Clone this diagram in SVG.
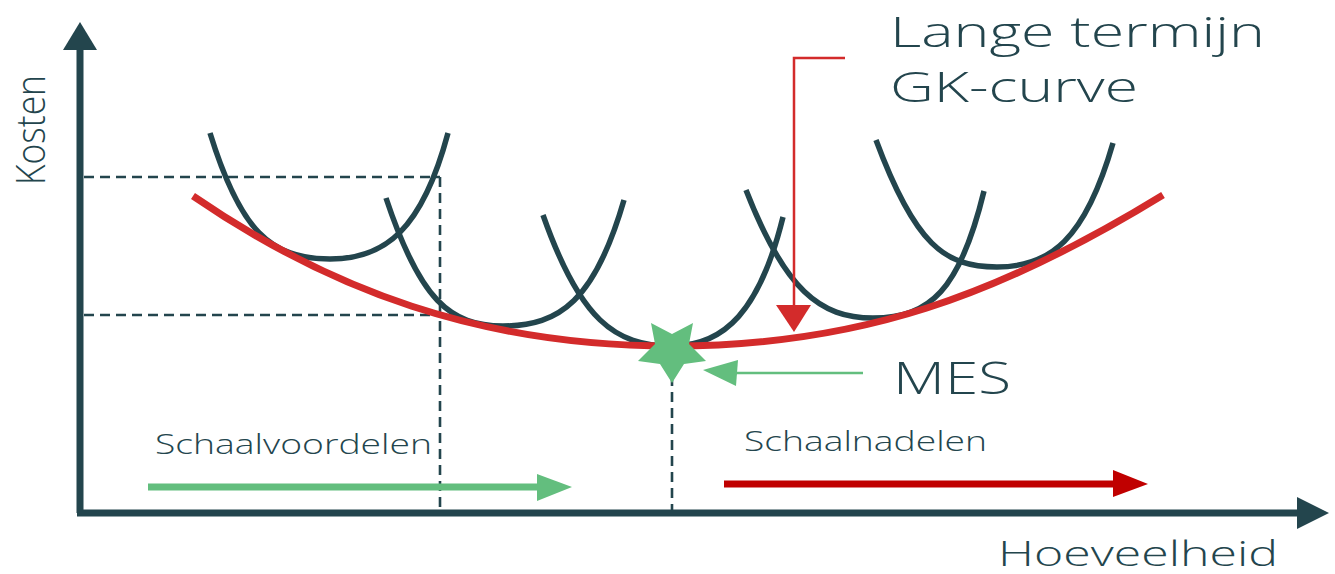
<svg xmlns="http://www.w3.org/2000/svg" width="1335" height="574" viewBox="0 0 1335 574">
<style>
.lbl{font-family:"Open Sans","Lato",sans-serif;font-weight:300;fill:#23454d}
.sac{fill:none;stroke:#23454d;stroke-width:5.5}
.dash{fill:none;stroke:#23454d;stroke-width:2.6;stroke-dasharray:10 6}
.axis{fill:none;stroke:#23454d;stroke-width:7}
</style>
<rect width="1335" height="574" fill="#ffffff"/>
<g id="guides">
<path class="dash" d="M84,177 H440 M84,315 H440 M440,177 V512 M672,376 V512"/>
</g>
<g id="axes">
<path class="axis" d="M80,513 V46 M77,513 H1300"/>
<polygon points="80,22 63,50 97,50" fill="#23454d"/>
<polygon points="1329,513 1297,497 1297,529" fill="#23454d"/>
</g>
<g id="sac-curves">
<path id="sac1" class="sac" d="M210,133 C240,230 270,259 330,259 C385,259 422,230 448,133"/>
<path id="sac2" class="sac" d="M386,198 C420,300 450,326 503,326 C560,326 595,300 624,200"/>
<path id="sac3" class="sac" d="M543,215 C580,320 615,346 672,346 C725,346 760,310 783,217"/>
<path id="sac4" class="sac" d="M746,190 C785,290 820,318 873,318 C930,318 960,290 984,191"/>
<path id="sac5" class="sac" d="M876,140 C915,245 945,267 997,267 C1050,267 1085,240 1113,143"/>
</g>
<g id="lrac">
<path d="M193,196 C330,290 480,346 672,346 C860,346 1000,295 1163,195" fill="none" stroke="#d32b2b" stroke-width="7"/>
</g>
<g id="mes-star">
<polygon points="672,383 660,364 638,361 655,344 651,323 672,334 693,323 689,344 706,361 684,364" fill="#63be7e"/>
</g>
<g id="connectors">
<path d="M845,58 H794 V306" fill="none" stroke="#d32b2b" stroke-width="2.5"/>
<polygon points="794,332 776,305 811,305" fill="#d32b2b"/>
<path d="M863,373 H735" fill="none" stroke="#63be7e" stroke-width="2.5"/>
<polygon points="703,370 738,360 736,386" fill="#63be7e"/>
<path d="M148,487 H540" fill="none" stroke="#63be7e" stroke-width="7"/>
<polygon points="572,487 537,474 537,501" fill="#63be7e"/>
<path d="M724,484 H1116" fill="none" stroke="#c00000" stroke-width="7"/>
<polygon points="1148,484 1113,470 1113,497" fill="#c00000"/>
</g>
<g id="labels">
<text class="lbl" x="890" y="47" font-size="42" textLength="375" lengthAdjust="spacingAndGlyphs">Lange termijn</text>
<text class="lbl" x="890" y="102" font-size="42" textLength="248" lengthAdjust="spacingAndGlyphs">GK-curve</text>
<text class="lbl" x="893" y="394" font-size="45" textLength="118" lengthAdjust="spacingAndGlyphs">MES</text>
<text class="lbl" x="155" y="454" font-size="27" textLength="277" lengthAdjust="spacingAndGlyphs">Schaalvoordelen</text>
<text class="lbl" x="744" y="451" font-size="27" textLength="243" lengthAdjust="spacingAndGlyphs">Schaalnadelen</text>
<text class="lbl" x="998" y="566" font-size="35" textLength="280" lengthAdjust="spacingAndGlyphs">Hoeveelheid</text>
<text class="lbl" transform="translate(45,185) rotate(-90)" font-size="40" textLength="110" lengthAdjust="spacingAndGlyphs">Kosten</text>
</g>
</svg>
